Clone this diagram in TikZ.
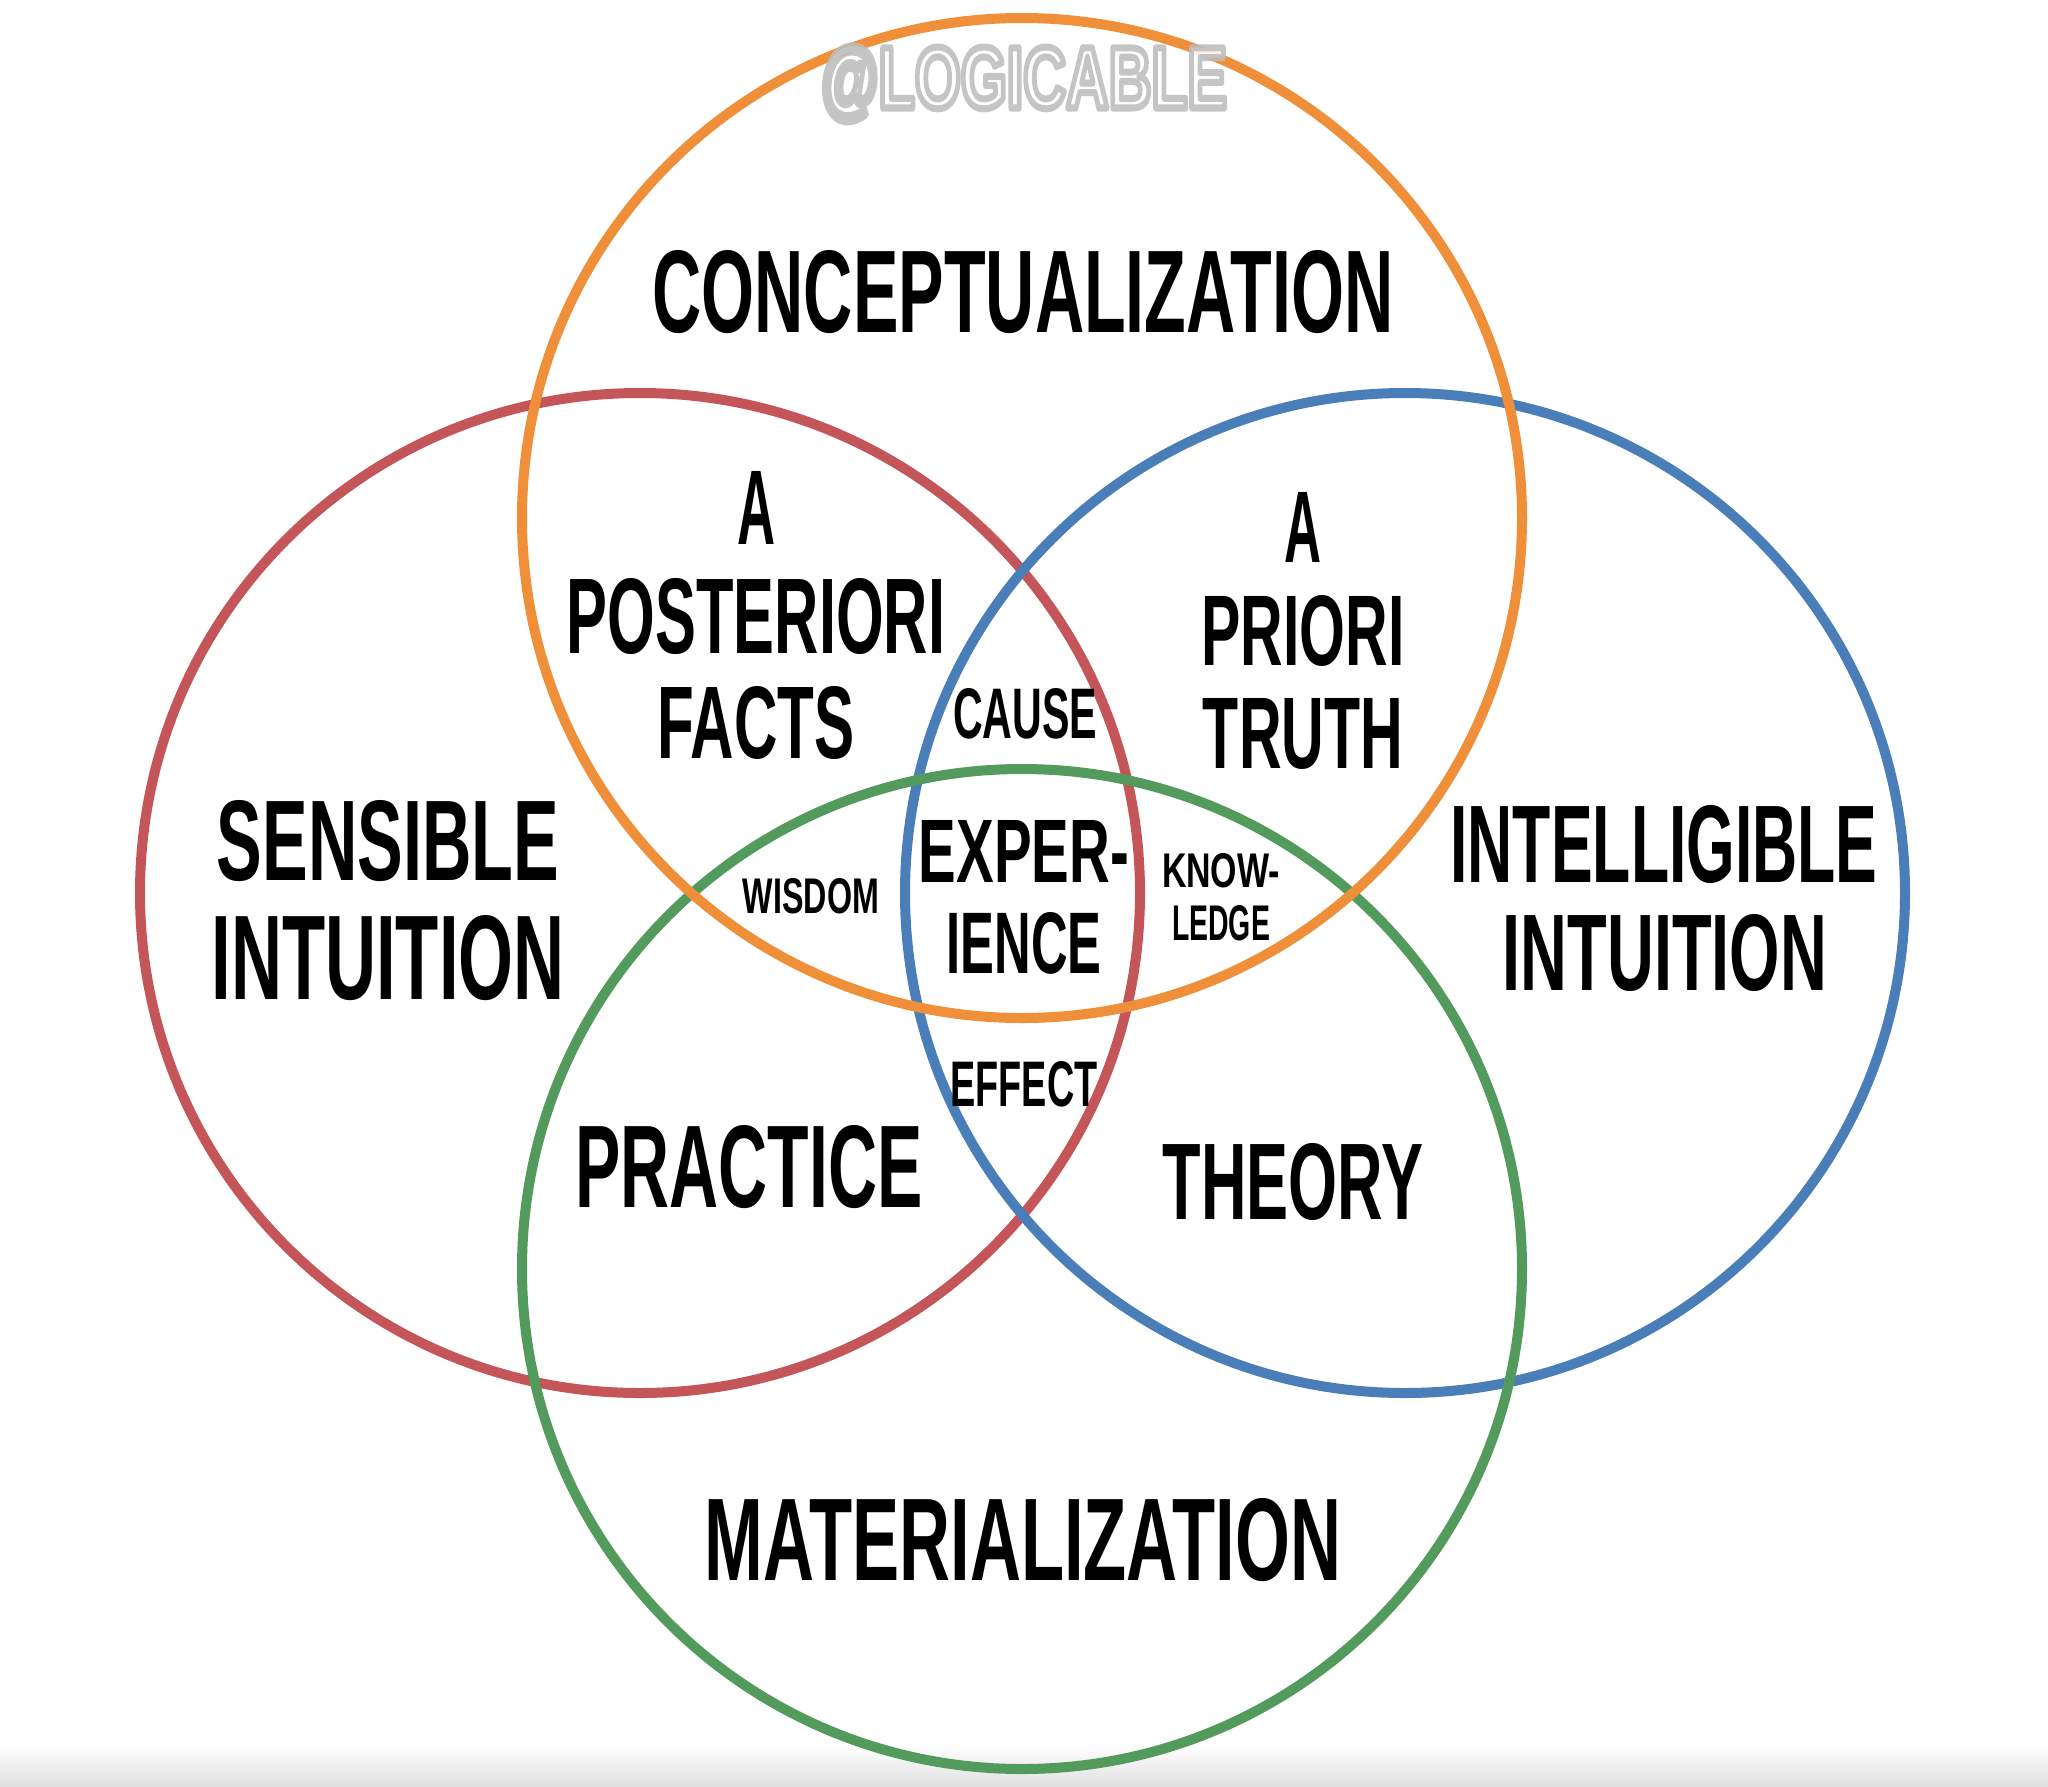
\documentclass[tikz,border=0pt]{standalone}
\usepackage{fontspec}
\setmainfont{Liberation Sans}
\usepackage{graphicx}
\definecolor{corange}{HTML}{EF8F39}
\definecolor{cred}{HTML}{C45558}
\definecolor{cblue}{HTML}{497EB8}
\definecolor{cgreen}{HTML}{529B5C}
\newcommand{\fitlbl}[3]{\resizebox{#1pt}{#2pt}{\bfseries #3}}
\newcommand{\outlinetext}[1]{{\color{white}\special{pdf:literal direct 2 Tr 0.8 w 1 j 0.74 G}#1\special{pdf:literal direct 0 Tr 1 w 0 j}}}
\begin{document}
\begin{tikzpicture}[x=1pt,y=-1pt,
  ring/.style={line width=10pt},
  lbl/.style={anchor=base,inner sep=0pt,outer sep=0pt,text=black}]
\useasboundingbox (0,0) rectangle (2048,1786);
\fill[white] (0,0) rectangle (2048,1786);
\shade[top color=white,bottom color=black!12] (0,1745) rectangle (2048,1786);
% circles
\draw[ring,cred]    (640,893)  circle[radius=500];
\draw[ring,cblue]   (1405,893) circle[radius=500];
\draw[ring,cgreen]  (1022,1269) circle[radius=500];
\draw[ring,corange] (1022,518) circle[radius=500];
% watermark
\node[lbl,opacity=0.88] (wm) at (1024,108) {\fitlbl{406}{62}{\outlinetext{@LOGICABLE}}};
% labels
\node[lbl] (concept) at (1023,332) {\fitlbl{741}{82}{CONCEPTUALIZATION}};
\node[lbl] (sens1) at (388,880) {\fitlbl{342}{80}{SENSIBLE}};
\node[lbl] (sens2) at (388,999) {\fitlbl{353}{84}{INTUITION}};
\node[lbl] (intel1) at (1664,882) {\fitlbl{427}{77}{INTELLIGIBLE}};
\node[lbl] (intel2) at (1665,990) {\fitlbl{324}{76}{INTUITION}};
\node[lbl] (apost1) at (756,544) {\fitlbl{38}{73}{A}};
\node[lbl] (apost2) at (756,653) {\fitlbl{378}{75}{POSTERIORI}};
\node[lbl] (apost3) at (756,758) {\fitlbl{197}{72}{FACTS}};
\node[lbl] (apri1) at (1303,562) {\fitlbl{37}{70}{A}};
\node[lbl] (apri2) at (1303,665) {\fitlbl{203}{70}{PRIORI}};
\node[lbl] (apri3) at (1303,768) {\fitlbl{200}{70}{TRUTH}};
\node[lbl] (cause) at (1025,738) {\fitlbl{144}{50}{CAUSE}};
\node[lbl] (exper1) at (1024,882) {\fitlbl{210}{62}{EXPER-}};
\node[lbl] (exper2) at (1024,973) {\fitlbl{155}{61}{IENCE}};
\node[lbl] (know1) at (1221,887) {\fitlbl{118}{34}{KNOW-}};
\node[lbl] (know2) at (1221,940) {\fitlbl{98}{35}{LEDGE}};
\node[lbl] (wisdom) at (811,913) {\fitlbl{136}{35}{WISDOM}};
\node[lbl] (effect) at (1024,1106) {\fitlbl{147}{45}{EFFECT}};
\node[lbl] (practice) at (749,1207) {\fitlbl{347}{82}{PRACTICE}};
\node[lbl] (theory) at (1293,1219) {\fitlbl{260}{76}{THEORY}};
\node[lbl] (mater) at (1023,1580) {\fitlbl{636}{82}{MATERIALIZATION}};
\end{tikzpicture}
\end{document}
